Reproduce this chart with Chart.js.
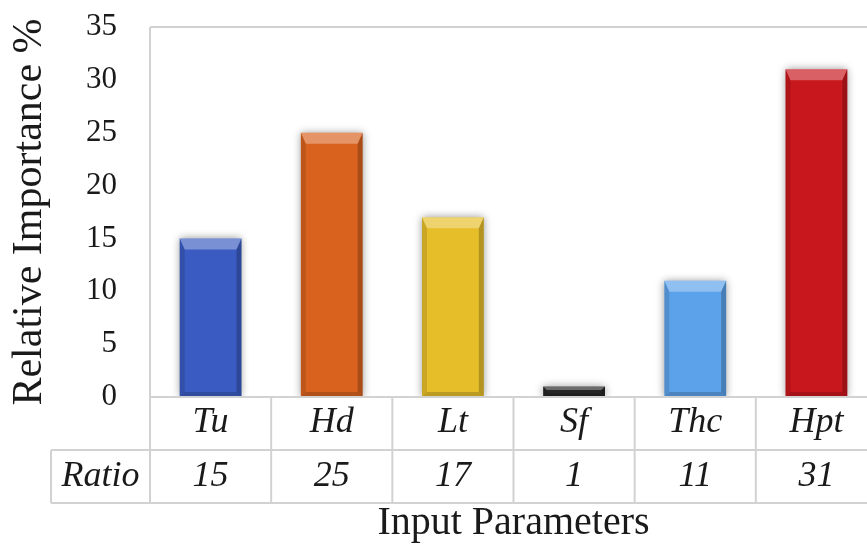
<!DOCTYPE html>
<html>
<head>
<meta charset="utf-8">
<title>Relative Importance</title>
<script src="https://cdn.jsdelivr.net/npm/chart.js@4.4.1/dist/chart.umd.min.js"></script>
<style>
  html, body { margin: 0; padding: 0; background: #fff; overflow: hidden; }
  canvas { display: block; }
</style>
</head>
<body>
<canvas id="myChartBarImportance" width="880" height="547"></canvas>
<script>
const categories = ['Tu', 'Hd', 'Lt', 'Sf', 'Thc', 'Hpt'];
const importanceValues = [15, 25, 17, 1, 11, 31];
const ratioValues = ['15', '25', '17', '1', '11', '31'];
const ratioLabel = 'Ratio';
const yTicks = [0, 5, 10, 15, 20, 25, 30, 35];

const barColors = ['#3a5cc2', '#d9621f', '#e6be2a', '#262626', '#5ca2ea', '#c8171d'];
const serif = "'Liberation Serif', 'Times New Roman', serif";
const textColor = '#1a1a1a';
const lineColor = '#d2d2d2';

function poly(ctx, pts, fill) {
    ctx.beginPath();
    ctx.moveTo(pts[0][0], pts[0][1]);
    for (let i = 1; i < pts.length; i++) ctx.lineTo(pts[i][0], pts[i][1]);
    ctx.closePath();
    ctx.fillStyle = fill;
    ctx.fill();
}

// soft shadow + bevelled edges on the bars
const bevelPlugin = {
    id: 'bevel',
    beforeDatasetsDraw(chart) {
        const ctx = chart.ctx;
        ctx.save();
        ctx.shadowColor = 'rgba(0,0,0,0.4)';
        ctx.shadowBlur = 8;
    },
    afterDatasetsDraw(chart) {
        const ctx = chart.ctx;
        ctx.restore();
        chart.getDatasetMeta(0).data.forEach(bar => {
            const p = bar.getProps(['x', 'y', 'base', 'width'], true);
            const l = p.x - p.width / 2, r = p.x + p.width / 2, t = p.y, b = p.base;
            const d = Math.min(11, (b - t) / 3);
            const s = Math.min(5, d);
            ctx.save();
            poly(ctx, [[l, t], [r, t], [r - s, t + d], [l + s, t + d]], 'rgba(255,255,255,0.32)');
            poly(ctx, [[l, t], [l + s, t + d], [l + s, b - s], [l, b]], 'rgba(0,0,0,0.12)');
            poly(ctx, [[r, t], [r - s, t + d], [r - s, b - s], [r, b]], 'rgba(0,0,0,0.22)');
            poly(ctx, [[l, b], [l + s, b - s], [r - s, b - s], [r, b]], 'rgba(0,0,0,0.18)');
            ctx.restore();
        });
    }
};

// frame, data table lines and the Ratio row
const tablePlugin = {
    id: 'ratioTable',
    afterDraw(chart) {
        const ctx = chart.ctx;
        const area = chart.chartArea;
        const xs = chart.scales.x;
        const cell = (area.right - area.left) / categories.length;
        const rowMid = area.bottom + 53;
        const rowBottom = area.bottom + 106;
        const tableLeft = 51;

        ctx.save();
        ctx.strokeStyle = lineColor;
        ctx.lineWidth = 2;
        ctx.beginPath();
        ctx.moveTo(area.left, area.top); ctx.lineTo(area.right, area.top);
        ctx.moveTo(area.left, area.top); ctx.lineTo(area.left, rowBottom);
        ctx.moveTo(area.left, area.bottom); ctx.lineTo(area.right, area.bottom);
        ctx.moveTo(tableLeft, rowMid); ctx.lineTo(area.right, rowMid);
        ctx.moveTo(tableLeft, rowBottom); ctx.lineTo(area.right, rowBottom);
        ctx.moveTo(tableLeft, rowMid); ctx.lineTo(tableLeft, rowBottom);
        categories.forEach((c, i) => {
            const xr = xs.getPixelForValue(i) + cell / 2;
            ctx.moveTo(xr, area.bottom); ctx.lineTo(xr, rowBottom);
        });
        ctx.stroke();

        ctx.fillStyle = textColor;
        ctx.font = 'italic 36px ' + serif;
        ctx.textAlign = 'center';
        ctx.textBaseline = 'middle';
        ctx.fillText(ratioLabel, (tableLeft + area.left) / 2, rowMid + 27);
        ratioValues.forEach((v, i) => {
            ctx.fillText(v, xs.getPixelForValue(i), rowMid + 27);
        });
        ctx.restore();
    }
};

const ctx = document.getElementById('myChartBarImportance').getContext('2d');
const chartBarInstance = new Chart(ctx, {
    type: 'bar',
    data: {
        labels: categories,
        datasets: [{
            label: 'Relative Importance %',
            data: importanceValues,
            backgroundColor: barColors,
            borderWidth: 0,
            categoryPercentage: 1,
            barPercentage: 0.51
        }]
    },
    options: {
        responsive: false,
        animation: false,
        layout: { padding: { top: 27, right: 3, left: 0, bottom: 0 } },
        plugins: {
            legend: { display: false },
            tooltip: { enabled: false }
        },
        scales: {
            x: {
                grid: { display: false, drawTicks: false },
                border: { display: false },
                ticks: {
                    color: textColor,
                    padding: 4,
                    font: { family: serif, size: 36, style: 'italic' }
                },
                title: {
                    display: true,
                    text: 'Input Parameters',
                    color: textColor,
                    padding: { top: 0, bottom: 0 },
                    font: { family: serif, size: 40 }
                },
                afterFit: scale => {
                    scale.height = 150;
                    scale.paddingLeft = 0;
                    scale.paddingRight = 0;
                }
            },
            y: {
                min: yTicks[0],
                max: yTicks[yTicks.length - 1],
                grid: { display: false, drawTicks: false },
                border: { display: false },
                afterBuildTicks: axis => { axis.ticks = yTicks.map(v => ({ value: v })); },
                ticks: {
                    color: textColor,
                    padding: 33,
                    font: { family: serif, size: 31 }
                },
                title: {
                    display: true,
                    text: 'Relative Importance %',
                    color: textColor,
                    padding: { top: 5, bottom: 0 },
                    font: { family: serif, size: 42 }
                },
                afterFit: scale => {
                    scale.width = 150;
                    scale.paddingTop = 0;
                    scale.paddingBottom = 0;
                }
            }
        }
    },
    plugins: [bevelPlugin, tablePlugin]
});
</script>
</body>
</html>
